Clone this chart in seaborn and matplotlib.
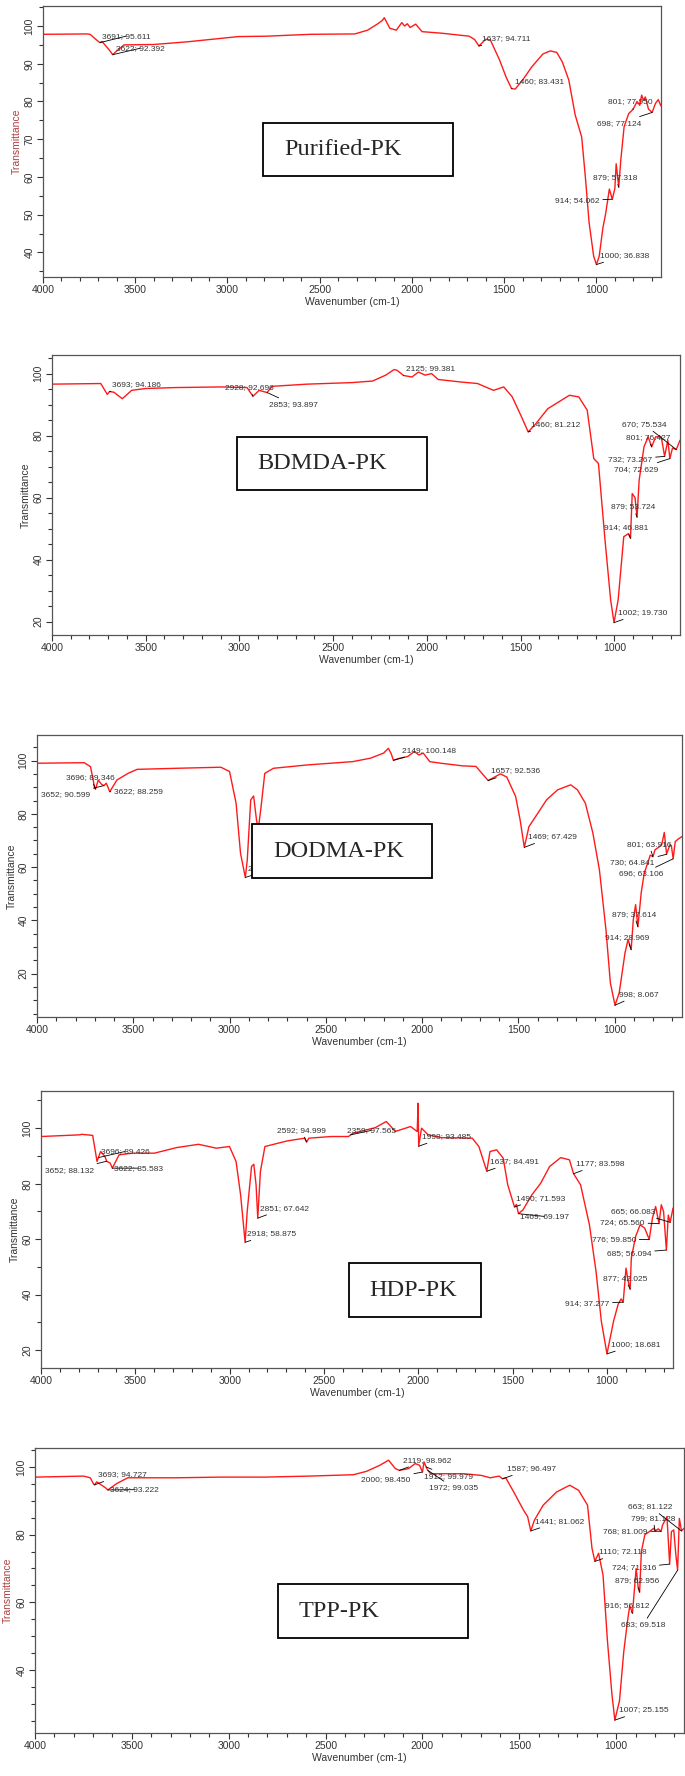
import matplotlib
matplotlib.use("Agg")
import matplotlib.pyplot as plt
from matplotlib.patches import Rectangle
from matplotlib.ticker import MultipleLocator
import pandas as pd
import seaborn as sns

# ---- spectra (wavenumber cm-1, transmittance %) ----
pk_wn = [4000, 3760, 3745, 3700, 3691, 3680, 3640, 3622, 3600, 3560,
         3400, 3220, 3080, 2940, 2790, 2550, 2310, 2240, 2185, 2160,
         2150, 2120, 2085, 2055, 2040, 2025, 2010, 1980, 1945, 1840,
         1690, 1660, 1637, 1600, 1575, 1525, 1490, 1460, 1440, 1400,
         1350, 1290, 1250, 1215, 1185, 1150, 1115, 1080, 1060, 1040,
         1015, 1000, 985, 965, 950, 930, 914, 900, 893, 879,
         868, 850, 825, 801, 780, 765, 755, 745, 735, 718,
         698, 680, 665, 650]
pk_t = [97.8, 97.9, 97.8, 95.9, 95.6, 95.9, 93.6, 92.4, 93.4, 95.0,
        95.1, 95.8, 96.5, 97.2, 97.3, 97.8, 97.9, 98.9, 100.6, 101.5,
        102.2, 99.4, 98.9, 100.9, 100.0, 100.6, 99.6, 100.5, 98.5, 98.1,
        97.3, 96.4, 94.7, 96.5, 96.3, 91.0, 86.5, 83.4, 83.3, 85.7,
        89.2, 92.6, 93.4, 93.0, 90.5, 85.7, 76.4, 70.6, 60.0, 48.0,
        39.0, 36.8, 39.0, 46.5, 50.3, 56.8, 54.1, 57.0, 63.5, 57.3,
        64.5, 73.3, 76.8, 77.95, 80.0, 79.0, 81.7, 80.3, 81.2, 78.0,
        77.1, 79.5, 80.5, 78.8]

bd_wn = [4000, 3740, 3705, 3693, 3670, 3625, 3575, 3500, 3340, 3100,
         2960, 2928, 2895, 2853, 2825, 2640, 2400, 2290, 2220, 2175,
         2160, 2125, 2080, 2045, 2010, 1975, 1940, 1820, 1730, 1645,
         1590, 1545, 1495, 1460, 1425, 1355, 1240, 1190, 1145, 1110,
         1085, 1050, 1020, 1002, 980, 950, 925, 914, 905, 890,
         879, 868, 842, 820, 801, 780, 750, 732, 715, 704,
         690, 670, 650]
bd_t = [96.6, 96.8, 93.3, 94.2, 94.0, 91.9, 94.6, 95.2, 95.5, 95.7,
        95.5, 92.7, 94.6, 93.9, 95.9, 96.6, 97.1, 97.6, 99.5, 101.3,
        101.1, 99.4, 98.9, 100.5, 99.5, 100.0, 98.1, 97.3, 96.8, 94.6,
        95.7, 92.5, 86.0, 81.2, 83.4, 88.7, 93.0, 92.5, 88.2, 72.6,
        71.0, 46.3, 27.0, 19.7, 27.0, 47.4, 48.4, 46.9, 61.3, 60.0,
        53.7, 65.6, 76.4, 79.6, 76.4, 79.6, 79.6, 73.3, 78.5, 72.6,
        76.0, 75.5, 78.5]

do_wn = [4000, 3755, 3722, 3700, 3696, 3682, 3664, 3652, 3640, 3622,
         3585, 3527, 3480, 3275, 3045, 3000, 2966, 2943, 2918, 2908,
         2890, 2875, 2860, 2851, 2836, 2817, 2772, 2590, 2360, 2268,
         2200, 2175, 2160, 2149, 2120, 2075, 2040, 2017, 1994, 1960,
         1903, 1788, 1720, 1657, 1593, 1560, 1514, 1491, 1469, 1445,
         1410, 1353, 1296, 1228, 1193, 1152, 1113, 1079, 1045, 1022,
         998, 976, 946, 930, 914, 903, 891, 879, 862, 846,
         828, 815, 801, 790, 770, 755, 742, 730, 713, 705,
         696, 685, 670, 650]
do_t = [99.0, 99.2, 97.7, 89.6, 89.3, 92.7, 91.0, 90.6, 91.5, 88.3,
        92.7, 95.2, 96.7, 97.1, 97.5, 95.9, 84.0, 65.2, 56.1, 62.6,
        85.2, 86.7, 77.7, 74.0, 82.8, 95.2, 97.1, 98.4, 99.6, 100.9,
        102.8, 104.6, 102.5, 100.1, 100.8, 101.5, 103.4, 102.1, 102.8, 99.6,
        99.0, 98.0, 97.8, 92.5, 95.0, 93.8, 86.5, 77.8, 67.4, 75.2,
        79.0, 85.3, 89.0, 90.9, 89.0, 84.0, 72.8, 59.0, 36.5, 16.5,
        8.1, 12.8, 27.8, 32.8, 29.0, 40.2, 45.9, 37.6, 50.3, 57.8,
        61.5, 64.5, 63.9, 66.5, 67.5, 68.5, 73.0, 64.8, 68.4, 68.0,
        63.1, 69.6, 70.5, 71.5]

hd_wn = [4000, 3796, 3785, 3726, 3703, 3696, 3684, 3661, 3652, 3633,
         3622, 3586, 3516, 3399, 3282, 3165, 3071, 3001, 2966, 2942,
         2918, 2907, 2884, 2872, 2860, 2851, 2837, 2813, 2696, 2603,
         2592, 2580, 2462, 2370, 2359, 2345, 2228, 2170, 2150, 2123,
         2041, 2006, 2001, 1998, 1983, 1948, 1877, 1714, 1679, 1637,
         1620, 1585, 1550, 1526, 1490, 1480, 1469, 1445, 1398, 1351,
         1304, 1245, 1199, 1177, 1140, 1093, 1058, 1030, 1000, 965,
         941, 925, 914, 899, 888, 877, 871, 848, 824, 800,
         776, 759, 742, 724, 712, 700, 685, 675, 665, 650]
hd_t = [97.0, 97.6, 97.8, 97.4, 88.0, 89.4, 91.6, 89.8, 88.1, 87.4,
        85.6, 90.4, 91.0, 91.0, 93.0, 94.2, 92.8, 93.4, 88.0, 76.0,
        58.9, 70.0, 86.2, 87.0, 79.6, 67.6, 84.4, 93.4, 95.4, 96.4,
        95.0, 96.4, 97.0, 97.0, 97.6, 98.2, 100.2, 102.4, 101.0, 98.8,
        100.6, 98.8, 109.0, 93.5, 100.0, 97.6, 96.6, 96.4, 93.4, 84.5,
        91.6, 92.2, 89.2, 79.6, 71.6, 72.5, 69.2, 70.6, 76.0, 80.2,
        86.2, 89.4, 88.6, 83.6, 79.6, 65.2, 48.4, 30.5, 18.7, 30.5,
        36.5, 38.5, 37.3, 49.6, 45.0, 42.0, 53.2, 61.0, 65.2, 64.0,
        59.9, 67.6, 71.8, 65.6, 72.4, 70.0, 56.1, 68.7, 66.1, 71.2]

tp_wn = [4000, 3749, 3715, 3697, 3693, 3681, 3635, 3624, 3578, 3521,
         3270, 3042, 2814, 2585, 2357, 2289, 2220, 2175, 2140, 2119,
         2072, 2038, 2015, 2000, 1992, 1981, 1972, 1958, 1912, 1787,
         1696, 1650, 1604, 1587, 1570, 1525, 1479, 1457, 1441, 1422,
         1377, 1308, 1240, 1194, 1148, 1125, 1110, 1091, 1068, 1045,
         1022, 1007, 983, 961, 942, 930, 916, 897, 886, 879,
         870, 852, 829, 806, 799, 783, 768, 761, 738, 724,
         715, 703, 692, 683, 674, 663, 650]
tp_t = [97.0, 97.3, 96.8, 94.9, 94.7, 95.6, 93.8, 93.2, 95.1, 96.8,
        96.8, 97.0, 97.0, 97.3, 97.7, 98.7, 100.5, 102.0, 99.5, 99.0,
        99.5, 101.0, 100.5, 98.5, 101.5, 100.0, 99.0, 98.0, 98.0, 98.0,
        97.5, 96.8, 97.3, 96.5, 96.8, 92.2, 87.3, 85.3, 81.1, 84.3,
        88.7, 92.6, 94.6, 93.1, 88.7, 76.0, 72.1, 74.5, 68.1, 48.5,
        32.8, 25.2, 30.9, 45.4, 54.3, 59.0, 56.8, 70.0, 64.2, 63.0,
        75.0, 80.0, 80.9, 81.9, 81.1, 81.7, 81.0, 82.8, 85.3, 71.3,
        80.9, 81.4, 74.0, 69.5, 84.8, 81.1, 81.9]

# ---- peak labels: (text, peak wn, peak T) ----
pk_peaks = [("3691; 95.611", 3691, 95.6), ("3622; 92.392", 3622, 92.4),
            ("1637; 94.711", 1637, 94.7), ("1460; 83.431", 1460, 83.4),
            ("801; 77.950", 801, 77.95), ("698; 77.124", 698, 77.1),
            ("879; 57.318", 879, 57.3), ("914; 54.062", 914, 54.1),
            ("1000; 36.838", 1000, 36.8)]
bd_peaks = [("3693; 94.186", 3693, 94.2), ("2928; 92.696", 2928, 92.7),
            ("2853; 93.897", 2853, 93.9), ("2125; 99.381", 2125, 99.4),
            ("1460; 81.212", 1460, 81.2), ("670; 75.534", 670, 75.5),
            ("801; 76.427", 801, 76.4), ("732; 73.267", 732, 73.3),
            ("704; 72.629", 704, 72.6), ("879; 53.724", 879, 53.7),
            ("914; 46.881", 914, 46.9), ("1002; 19.730", 1002, 19.7)]
do_peaks = [("3696; 89.346", 3696, 89.3), ("3652; 90.599", 3652, 90.6),
            ("3622; 88.259", 3622, 88.3), ("2918; 56.107", 2918, 56.1),
            ("2149; 100.148", 2149, 100.1), ("1657; 92.536", 1657, 92.5),
            ("1469; 67.429", 1469, 67.4), ("801; 63.916", 801, 63.9),
            ("730; 64.841", 730, 64.8), ("696; 63.106", 696, 63.1),
            ("879; 37.614", 879, 37.6), ("914; 28.969", 914, 29.0),
            ("998; 8.067", 998, 8.1)]
hd_peaks = [("3696; 89.426", 3696, 89.4), ("3652; 88.132", 3652, 88.1),
            ("3622; 85.583", 3622, 85.6), ("2918; 58.875", 2918, 58.9),
            ("2851; 67.642", 2851, 67.6), ("2592; 94.999", 2592, 95.0),
            ("2359; 97.565", 2359, 97.6), ("1998; 93.485", 1998, 93.5),
            ("1637; 84.491", 1637, 84.5), ("1177; 83.598", 1177, 83.6),
            ("1490; 71.593", 1490, 71.6), ("1469; 69.197", 1469, 69.2),
            ("665; 66.083", 665, 66.1), ("724; 65.560", 724, 65.6),
            ("776; 59.850", 776, 59.9), ("685; 56.094", 685, 56.1),
            ("877; 42.025", 877, 42.0), ("914; 37.277", 914, 37.3),
            ("1000; 18.681", 1000, 18.7)]
tp_peaks = [("3693; 94.727", 3693, 94.7), ("3624; 93.222", 3624, 93.2),
            ("2119; 98.962", 2119, 99.0), ("2000; 98.450", 2000, 98.5),
            ("1912; 99.979", 1981, 100.0), ("1972; 99.035", 1972, 99.0),
            ("1587; 96.497", 1587, 96.5), ("1441; 81.062", 1441, 81.1),
            ("663; 81.122", 663, 81.1), ("799; 81.128", 799, 81.1),
            ("768; 81.009", 768, 81.0), ("1110; 72.118", 1110, 72.1),
            ("724; 71.316", 724, 71.3), ("879; 62.956", 879, 63.0),
            ("916; 56.812", 916, 56.8), ("683; 69.518", 683, 69.5),
            ("1007; 25.155", 1007, 25.2)]

# where each label text starts (data coords), same order as the peak lists
pk_text_at = [(3682, 97.3), (3606, 94.1), (1619, 96.7), (1440, 85.2), (938, 79.9),
              (997, 74.2), (1016, 59.8), (1224, 53.8), (981, 39.2)]
bd_text_at = [(3678, 96.5), (3078, 95.4), (2842, 90.0), (2114, 101.6), (1444, 83.6),
              (958, 83.6), (940, 79.4), (1033, 72.4), (1000, 69.1), (1017, 57.0),
              (1057, 50.3), (982, 22.9)]
do_text_at = [(3847, 93.7), (3979, 87.1), (3600, 88.3), (2902, 59.5), (2104, 103.8),
              (1640, 96.1), (1450, 71.4), (937, 68.5), (1022, 61.6), (976, 57.4),
              (1015, 42.3), (1052, 33.7), (976, 12.2)]
hd_text_at = [(3684, 91.6), (3977, 84.8), (3614, 85.6), (2907, 62.0), (2837, 71.2),
              (2748, 99.2), (2380, 99.2), (1983, 97.0), (1620, 88.0), (1164, 87.2),
              (1484, 74.8), (1461, 68.2), (976, 70.0), (1035, 66.1), (1082, 59.8),
              (1000, 55.0), (1023, 46.0), (1222, 37.0), (976, 22.1)]
tp_text_at = [(3676, 97.7), (3612, 93.3), (2102, 102.0), (2316, 96.4), (1992, 97.3),
              (1965, 93.8), (1563, 99.5), (1417, 84.0), (938, 88.2), (925, 84.8),
              (1068, 81.0), (1091, 74.9), (1023, 70.2), (1007, 66.3), (1057, 59.2),
              (977, 53.3), (984, 28.2)]

sample_names = ["Purified-PK", "BDMDA-PK", "DODMA-PK", "HDP-PK", "TPP-PK"]

W, H = 685, 1776
sns.set_style("white")
plt.rcParams['font.family'] = ['Liberation Sans', 'DejaVu Sans']

fig = plt.figure(figsize=(W / 100, H / 100), dpi=100)


def draw_panel(wn, t, peaks, text_at, name, frame, ylim, ymaj, ymin,
               ylab_px, box, name_px, ylab_color):
    left, top, right, bottom = frame
    ax = fig.add_axes([left / W, 1 - bottom / H, (right - left) / W, (bottom - top) / H])
    df = pd.DataFrame({"wavenumber": wn, "T": t})
    sns.lineplot(data=df, x="wavenumber", y="T", ax=ax, color="#ff1a1a",
                 lw=1.0, sort=False, estimator=None)
    ax.set_xlim(4000, 650)
    ax.set_ylim(*ylim)
    ax.xaxis.set_major_locator(MultipleLocator(500))
    ax.xaxis.set_minor_locator(MultipleLocator(100))
    ax.yaxis.set_major_locator(MultipleLocator(ymaj))
    ax.yaxis.set_minor_locator(MultipleLocator(ymin))
    ax.tick_params(axis="both", which="both", direction="out", colors="#333",
                   labelsize=7.5, width=0.8, bottom=True, left=True)
    ax.tick_params(which="major", length=4, pad=2)
    ax.tick_params(which="minor", length=3)
    ax.tick_params(axis="y", labelrotation=90)
    for lab in ax.get_yticklabels():
        lab.set_va("center")
    for sp in ax.spines.values():
        sp.set_color("#555")
        sp.set_linewidth(0.9)
    ax.set_xlabel("Wavenumber (cm-1)", fontsize=7.5, color="#333", labelpad=1)
    ax.set_ylabel("Transmittance", fontsize=7.5, color=ylab_color)
    ax.yaxis.set_label_coords((ylab_px - left) / (right - left), 0.5)

    for (txt, px, py), (tx, ty) in zip(peaks, text_at):
        ax.annotate(txt, xy=(px, py), xytext=(tx, ty), fontsize=6, color="#333",
                    ha="left", va="center", annotation_clip=False,
                    arrowprops=dict(arrowstyle="-", color="black", lw=0.6,
                                    shrinkA=0, shrinkB=0))

    # sample name box
    bx0, by0, bx1, by1 = box
    fig.add_artist(Rectangle((bx0 / W, 1 - by1 / H), (bx1 - bx0) / W, (by1 - by0) / H,
                             transform=fig.transFigure, facecolor="white",
                             edgecolor="black", lw=1.3, zorder=5))
    fig.text(name_px / W, 1 - (by0 + by1) / 2 / H, name, fontsize=17.5,
             family="Liberation Serif", ha="left", va="center", zorder=6)
    return ax


draw_panel(pk_wn, pk_t, pk_peaks, pk_text_at, sample_names[0],
           (43, 6, 661, 277), (33.5, 105.3), 10, 5, 22,
           (263, 123, 453, 176), 284, "#b04040")
draw_panel(bd_wn, bd_t, bd_peaks, bd_text_at, sample_names[1],
           (52, 355, 680, 635), (15.7, 106), 20, 5, 31,
           (237, 437, 427, 490), 257, "#333")
draw_panel(do_wn, do_t, do_peaks, do_text_at, sample_names[2],
           (37, 735, 682, 1017), (3.7, 109.6), 20, 5, 17,
           (252, 824, 432, 878), 273, "#333")
draw_panel(hd_wn, hd_t, hd_peaks, hd_text_at, sample_names[3],
           (41, 1091, 673, 1368), (13.6, 113.4), 20, 10, 20,
           (349, 1263, 481, 1317), 369, "#333")
draw_panel(tp_wn, tp_t, tp_peaks, tp_text_at, sample_names[4],
           (35, 1448, 684, 1733), (21.4, 105.6), 20, 5, 13,
           (278, 1584, 468, 1638), 299, "#b04040")

fig.savefig("out.png", dpi=100)
